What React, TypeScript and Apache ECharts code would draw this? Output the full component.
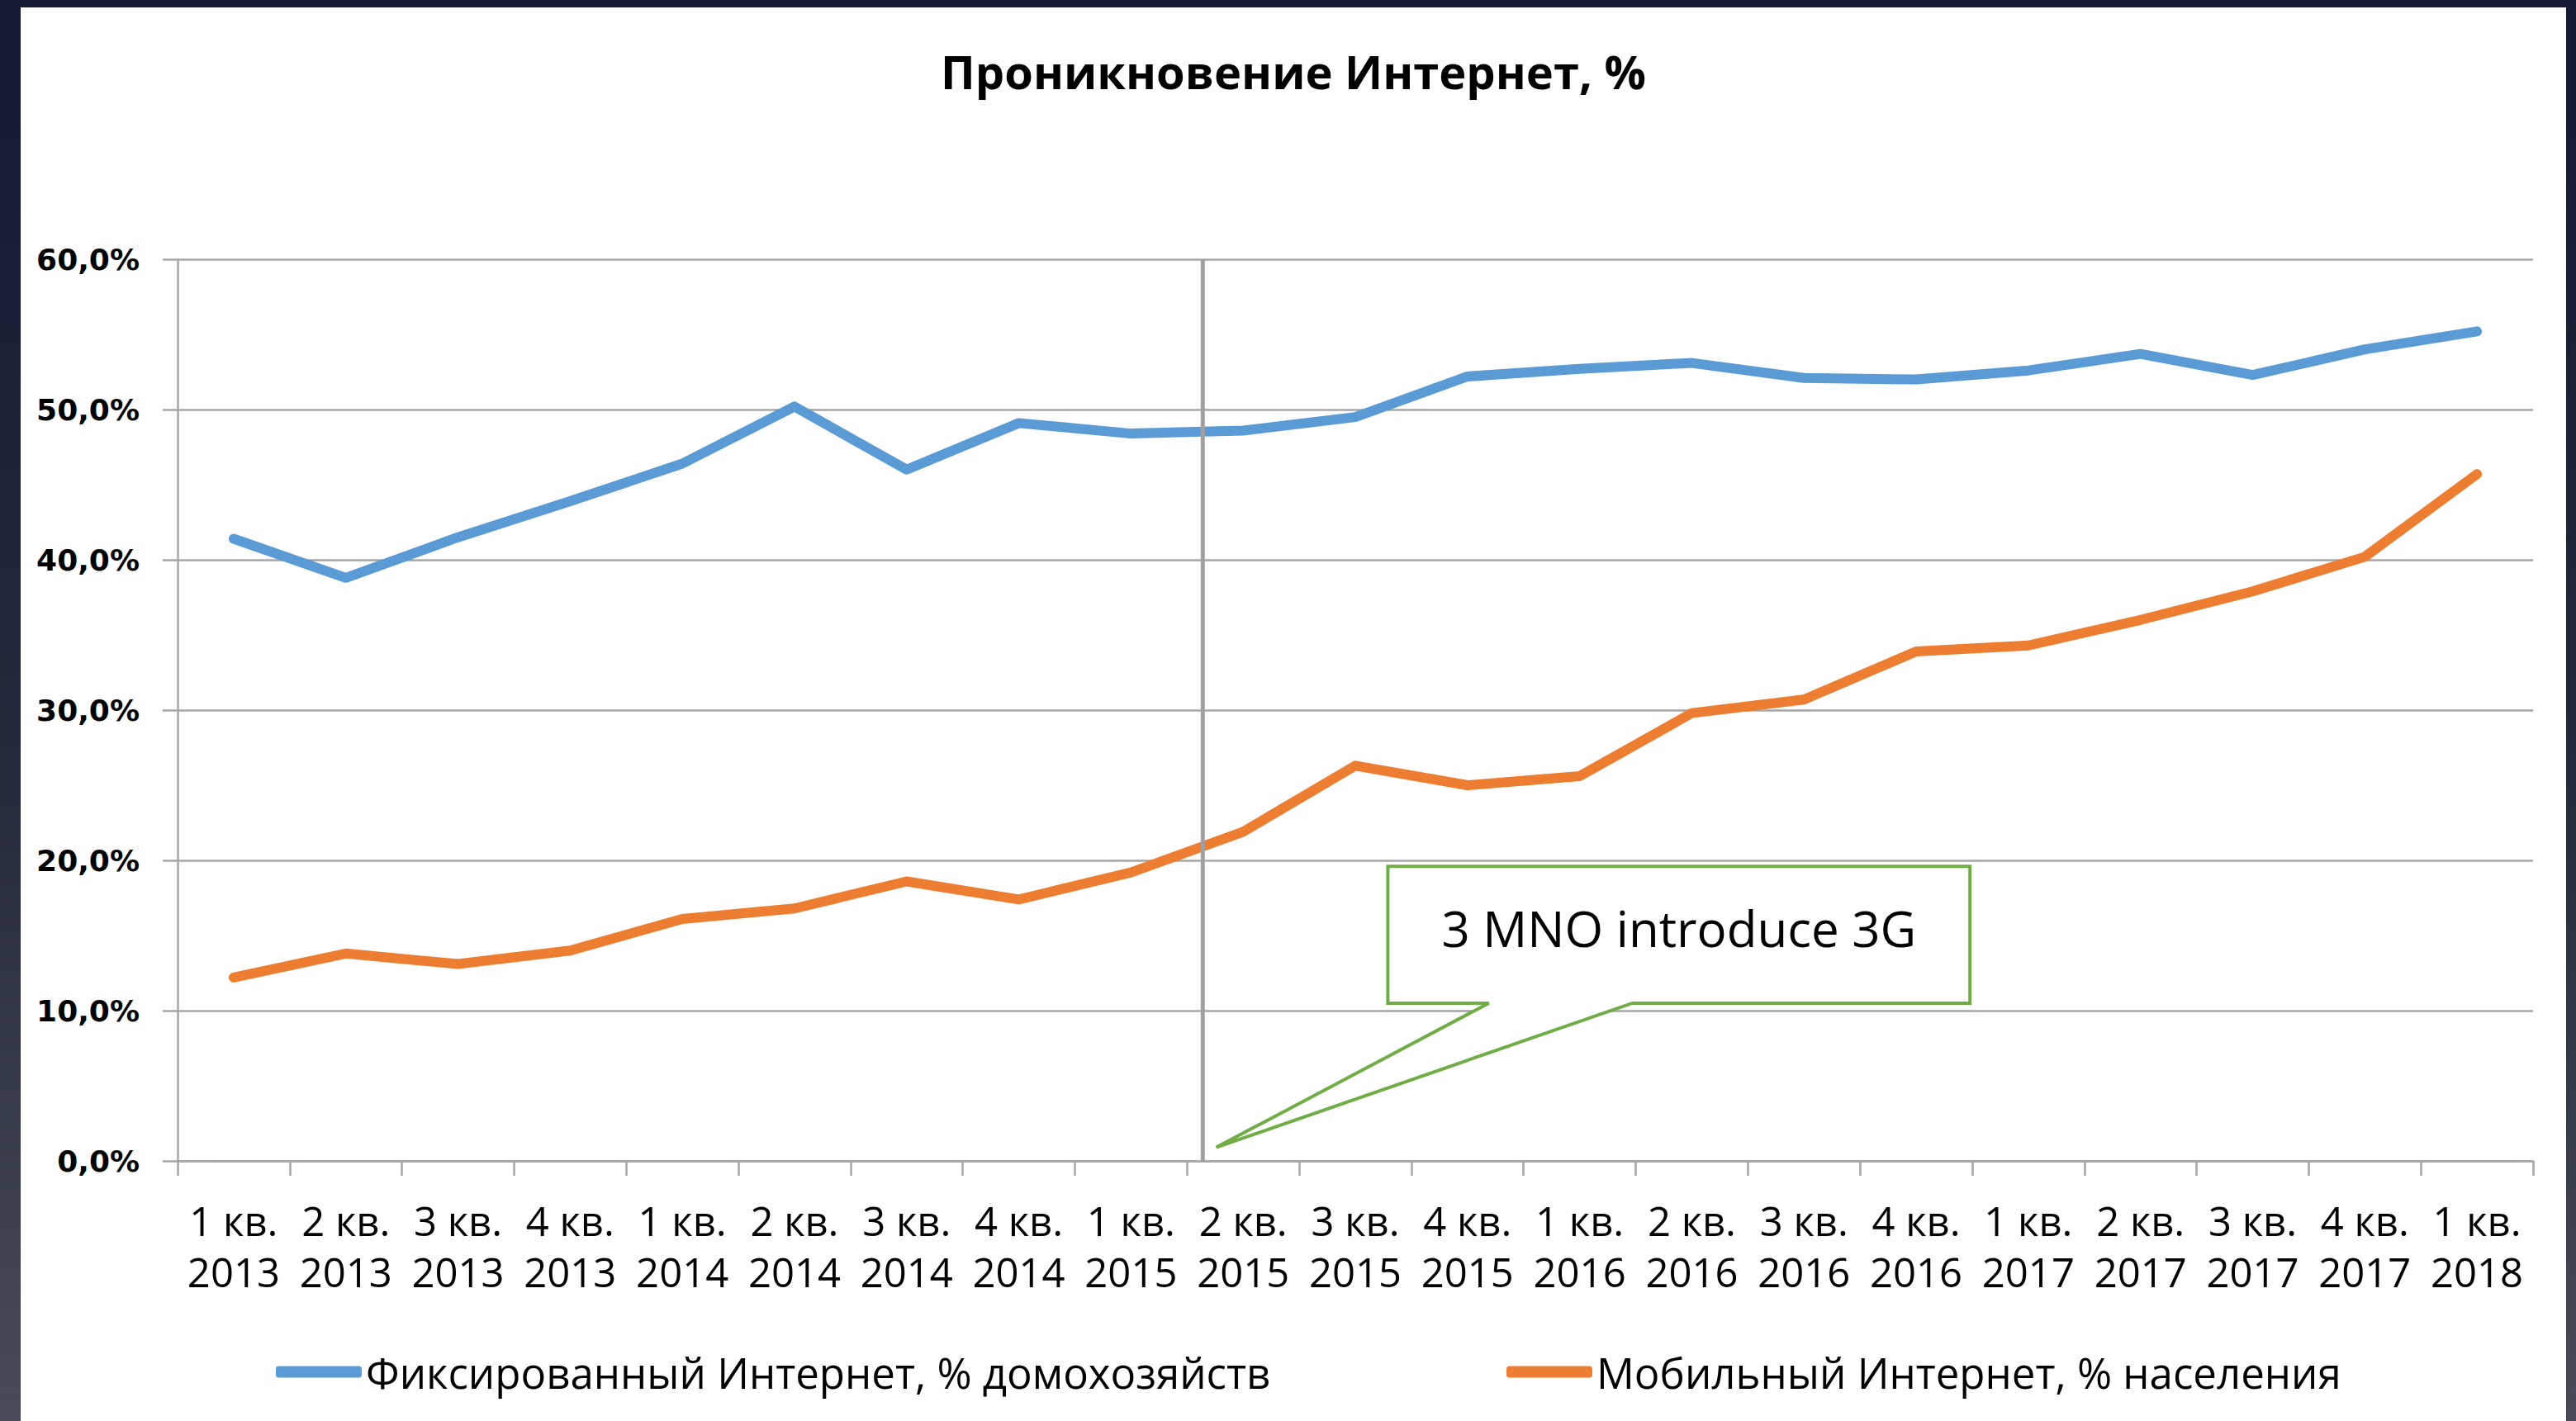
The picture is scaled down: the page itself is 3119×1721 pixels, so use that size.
import React, { useEffect, useRef } from "react";
import * as echarts from "echarts";

const categories = [
  "1 кв. 2013", "2 кв. 2013", "3 кв. 2013", "4 кв. 2013",
  "1 кв. 2014", "2 кв. 2014", "3 кв. 2014", "4 кв. 2014",
  "1 кв. 2015", "2 кв. 2015", "3 кв. 2015", "4 кв. 2015",
  "1 кв. 2016", "2 кв. 2016", "3 кв. 2016", "4 кв. 2016",
  "1 кв. 2017", "2 кв. 2017", "3 кв. 2017", "4 кв. 2017",
  "1 кв. 2018",
];

const fixedInternet = [
  41.4, 38.8, 41.5, 43.9, 46.4, 50.2, 46.0, 49.1, 48.4, 48.6, 49.5,
  52.2, 52.7, 53.1, 52.1, 52.0, 52.6, 53.7, 52.3, 54.0, 55.2,
];

const mobileInternet = [
  12.2, 13.8, 13.1, 14.0, 16.1, 16.8, 18.6, 17.4, 19.2, 21.9, 26.3,
  25.0, 25.6, 29.8, 30.7, 33.9, 34.3, 36.0, 37.9, 40.2, 45.7,
];

const seriesNames = [
  "Фиксированный Интернет, % домохозяйств",
  "Мобильный Интернет, % населения",
];

const titleText = "Проникновение Интернет, %";
const calloutText = "3 MNO introduce 3G";

// y axis ticks
const yMin = 0;
const yMax = 60;
const yStep = 10;

// annotation anchors expressed in axis units (category position, value %)
const launchLinePos = 8.64;
const calloutBoxCat = [10.29, 15.48];
const calloutBoxVal = [19.6, 10.5];
const calloutTailCat = [11.19, 12.47];
const calloutTip = [8.76, 0.9];

const BLUE = "#5b9bd5";
const ORANGE = "#ed7d31";
const GREEN = "#70ad47";
const GRID = "#a6a6a6";
const SANS = "'Open Sans', 'Noto Sans', sans-serif";

export default function App() {
  const ref = useRef<HTMLDivElement>(null);

  useEffect(() => {
    if (!ref.current) return;
    const chart = echarts.init(ref.current, undefined, { renderer: "svg" });

    const legendText = { fontFamily: SANS, fontSize: 51, color: "#000" };

    const option: any = {
      animation: false,
      backgroundColor: "#ffffff",
      title: {
        text: titleText,
        left: "center",
        top: 44,
        textStyle: {
          fontFamily: SANS,
          fontWeight: "bold",
          fontSize: 56,
          color: "#000",
        },
      },
      legend: [
        {
          data: [seriesNames[0]],
          left: 304,
          top: 1622,
          icon: "roundRect",
          itemWidth: 104,
          itemHeight: 14,
          textStyle: legendText,
        },
        {
          data: [seriesNames[1]],
          left: 1794,
          top: 1622,
          icon: "roundRect",
          itemWidth: 104,
          itemHeight: 14,
          textStyle: legendText,
        },
      ],
      grid: { left: 190, right: 40, top: 305, bottom: 315, containLabel: false },
      xAxis: {
        type: "category",
        data: categories,
        boundaryGap: true,
        axisLine: { show: true, lineStyle: { color: GRID, width: 2.5 } },
        axisTick: { show: true, length: 18, lineStyle: { color: GRID, width: 2.5 } },
        axisLabel: {
          interval: 0,
          margin: 41,
          fontFamily: SANS,
          fontSize: 49,
          lineHeight: 62,
          color: "#000",
          formatter: (v: string) => {
            const i = v.lastIndexOf(" ");
            return v.slice(0, i) + "\n" + v.slice(i + 1);
          },
        },
        splitLine: { show: false },
      },
      yAxis: {
        type: "value",
        min: yMin,
        max: yMax,
        interval: yStep,
        axisLine: { show: true, lineStyle: { color: GRID, width: 2.5 } },
        axisTick: { show: true, length: 18, lineStyle: { color: GRID, width: 2.5 } },
        axisLabel: {
          margin: 46,
          fontFamily: "'DejaVu Sans', Verdana, sans-serif",
          fontWeight: "bold",
          fontSize: 36,
          color: "#000",
          formatter: (v: number) => v.toFixed(1).replace(".", ",") + "%",
        },
        splitLine: { show: true, lineStyle: { color: GRID, width: 2.5 } },
      },
      series: [
        {
          name: seriesNames[0],
          type: "line",
          data: fixedInternet,
          symbol: "none",
          lineStyle: { color: BLUE, width: 12, cap: "round", join: "round" },
          itemStyle: { color: BLUE },
        },
        {
          name: seriesNames[1],
          type: "line",
          data: mobileInternet,
          symbol: "none",
          lineStyle: { color: ORANGE, width: 12, cap: "round", join: "round" },
          itemStyle: { color: ORANGE },
        },
      ],
    };

    chart.setOption(option);

    const toPx = (pos: number, val: number): number[] => {
      const a = chart.convertToPixel({ gridIndex: 0 }, [0, val]) as number[];
      const b = chart.convertToPixel({ gridIndex: 0 }, [1, val]) as number[];
      return [a[0] + (b[0] - a[0]) * pos, a[1]];
    };

    const lineTop = toPx(launchLinePos, yMax);
    const lineBot = toPx(launchLinePos, yMin);
    const boxTL = toPx(calloutBoxCat[0], calloutBoxVal[0]);
    const boxBR = toPx(calloutBoxCat[1], calloutBoxVal[1]);
    const tailL = toPx(calloutTailCat[0], calloutBoxVal[1]);
    const tailR = toPx(calloutTailCat[1], calloutBoxVal[1]);
    const tip = toPx(calloutTip[0], calloutTip[1]);

    chart.setOption({
      graphic: [
        {
          type: "line",
          z: 100,
          shape: { x1: lineTop[0], y1: lineTop[1], x2: lineBot[0], y2: lineBot[1] },
          style: { stroke: "#a0a0a0", lineWidth: 5 },
        },
        {
          type: "polygon",
          z: 101,
          shape: {
            points: [
              [boxTL[0], boxTL[1]],
              [boxBR[0], boxTL[1]],
              [boxBR[0], boxBR[1]],
              [tailR[0], boxBR[1]],
              [tip[0], tip[1]],
              [tailL[0], boxBR[1]],
              [boxTL[0], boxBR[1]],
            ],
          },
          style: { fill: "#ffffff", stroke: GREEN, lineWidth: 4, lineJoin: "miter" },
        },
        {
          type: "text",
          z: 102,
          x: (boxTL[0] + boxBR[0]) / 2,
          y: (boxTL[1] + boxBR[1]) / 2 - 8,
          style: {
            text: calloutText,
            fontFamily: SANS,
            fontSize: 60,
            fill: "#000",
            align: "center",
            verticalAlign: "middle",
          },
        },
      ],
    });

    return () => chart.dispose();
  }, []);

  return (
    <div
      style={{
        position: "fixed",
        left: 0,
        top: 0,
        width: 3119,
        height: 1721,
        background: "linear-gradient(to bottom, #151a35 0%, #22273a 50%, #474b55 100%)",
        overflow: "hidden",
      }}
    >
      <div
        ref={ref}
        style={{ position: "absolute", left: 25, top: 9, width: 3082, height: 1712 }}
      />
    </div>
  );
}
